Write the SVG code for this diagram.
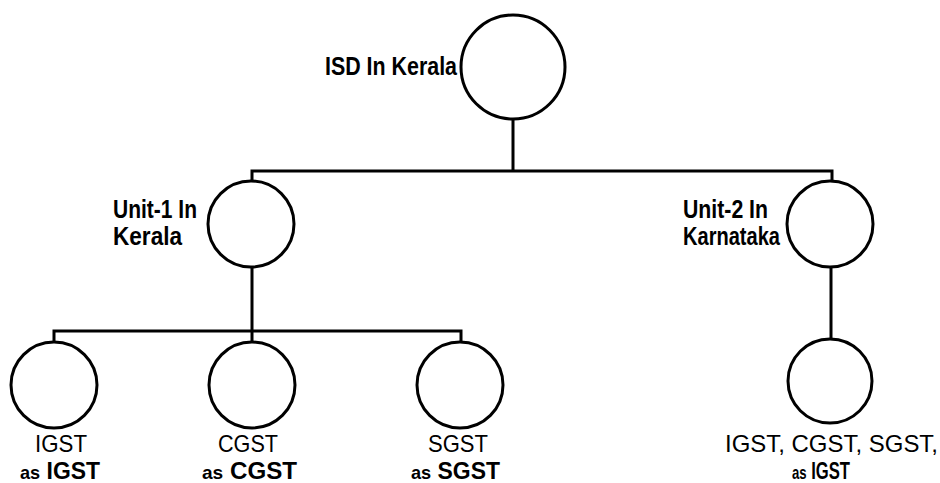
<svg xmlns="http://www.w3.org/2000/svg" width="940" height="483" viewBox="0 0 940 483">
<style>
.node{fill:#fff;stroke:#000;stroke-width:3}
.conn{stroke:#000;stroke-width:3;fill:none;stroke-linecap:square}
.t{font-family:"Liberation Sans",Arial,sans-serif;font-size:26px;fill:#000;font-weight:bold}
.b{font-size:24px}
.r{font-weight:normal}
</style>
<rect width="940" height="483" fill="#fff"/>
<g id="connectors">
<path class="conn" d="M513 119V171M252 171H832M252 171V181M832 171V181"/>
<path class="conn" d="M252 267V331M54 331H461M54 331V342M252 331V342M461 331V342"/>
<path class="conn" d="M831 267V338"/>
</g>
<g id="isd">
<circle class="node" cx="513" cy="67" r="52"/>
<text class="t" x="325" y="75" textLength="132" lengthAdjust="spacingAndGlyphs">ISD In Kerala</text>
</g>
<g id="unit1">
<circle class="node" cx="251" cy="224" r="43"/>
<text class="t" x="113" y="218" textLength="84" lengthAdjust="spacingAndGlyphs">Unit-1 In</text>
<text class="t" x="113" y="245" textLength="69" lengthAdjust="spacingAndGlyphs">Kerala</text>
</g>
<g id="unit2">
<circle class="node" cx="830" cy="224" r="43"/>
<text class="t" x="683" y="218" textLength="85" lengthAdjust="spacingAndGlyphs">Unit-2 In</text>
<text class="t" x="683" y="245" textLength="97" lengthAdjust="spacingAndGlyphs">Karnataka</text>
</g>
<g id="igst">
<circle class="node" cx="54" cy="385" r="43"/>
<text class="t b r" x="35" y="452" textLength="52" lengthAdjust="spacingAndGlyphs">IGST</text>
<text class="t b" x="20" y="479" textLength="80" lengthAdjust="spacingAndGlyphs"><tspan font-size="19">as</tspan> IGST</text>
</g>
<g id="cgst">
<circle class="node" cx="252" cy="385" r="43"/>
<text class="t b r" x="218" y="452" textLength="60" lengthAdjust="spacingAndGlyphs">CGST</text>
<text class="t b" x="202" y="479" textLength="95" lengthAdjust="spacingAndGlyphs"><tspan font-size="19">as</tspan> CGST</text>
</g>
<g id="sgst">
<circle class="node" cx="460" cy="385" r="43"/>
<text class="t b r" x="428" y="452" textLength="60" lengthAdjust="spacingAndGlyphs">SGST</text>
<text class="t b" x="411" y="479" textLength="89" lengthAdjust="spacingAndGlyphs"><tspan font-size="19">as</tspan> SGST</text>
</g>
<g id="unit2tax">
<circle class="node" cx="830" cy="381" r="42"/>
<text class="t b r" x="725" y="452" textLength="213" lengthAdjust="spacingAndGlyphs">IGST, CGST, SGST,</text>
<text class="t b" x="792" y="479" textLength="58" lengthAdjust="spacingAndGlyphs"><tspan font-size="19">as</tspan> IGST</text>
</g>
</svg>
